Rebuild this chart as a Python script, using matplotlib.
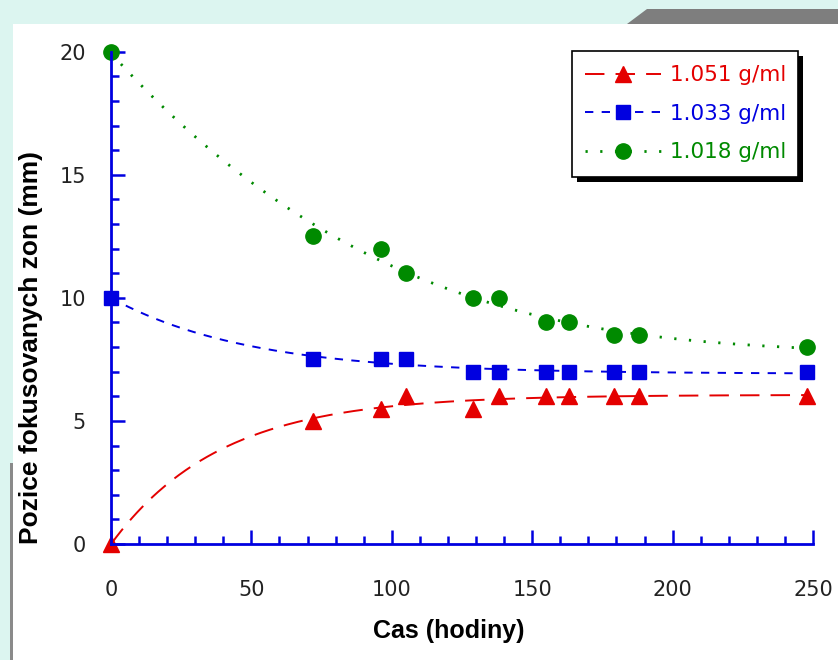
import numpy as np
import matplotlib
matplotlib.use("Agg")
import matplotlib.pyplot as plt
from matplotlib.patches import Rectangle, Polygon

# time in hours
hours = np.array([0, 72, 96, 105, 129, 138, 155, 163, 179, 188, 248])
# focused zone positions (mm)
pos_1051 = np.array([0, 5, 5.5, 6, 5.5, 6, 6, 6, 6, 6, 6])
pos_1033 = np.array([10, 7.5, 7.5, 7.5, 7, 7, 7, 7, 7, 7, 7])
pos_1018 = np.array([20, 12.5, 12, 11, 10, 10, 9, 9, 8.5, 8.5, 8])
labels = ["1.051 g/ml", "1.033 g/ml", "1.018 g/ml"]

RED = "#e40000"
BLUE = "#0000e0"
GREEN = "#008a00"

plt.rcParams["lines.scale_dashes"] = False


def expfit(x, y):
    # y = a + b*exp(-x/tau), grid search on tau, least squares for a, b
    best = None
    for tau in np.linspace(5, 200, 800):
        m = np.column_stack([np.ones_like(x, dtype=float), np.exp(-x / tau)])
        coef = np.linalg.lstsq(m, y, rcond=None)[0]
        err = np.sum((m @ coef - y) ** 2)
        if best is None or err < best[0]:
            best = (err, tau, coef)
    _, tau, (a, b) = best
    return lambda t: a + b * np.exp(-t / tau)


W, H = 838, 660
fig = plt.figure(figsize=(W / 100, H / 100), dpi=100)
fig.patch.set_facecolor("#dcf5f0")


def px(x, y):
    return (x / W, 1 - y / H)


fig.patches.append(Rectangle(px(13, 660), (W - 13) / W, (660 - 24) / H,
                             transform=fig.transFigure, facecolor="white",
                             edgecolor="none", zorder=-2))
fig.patches.append(Polygon([px(627, 24), px(647, 9), px(838, 9), px(838, 24)],
                           closed=True, transform=fig.transFigure,
                           facecolor="#7e7e7e", edgecolor="none", zorder=-2))
fig.patches.append(Rectangle(px(10, 660), 3 / W, (660 - 463) / H,
                             transform=fig.transFigure, facecolor="#8a8a8a",
                             edgecolor="none", zorder=-2))

ax = fig.add_axes([111 / W, 1 - 544 / H, (813 - 111) / W, (544 - 51.7) / H])
ax.set_facecolor("none")
ax.set_zorder(1)

tt = np.linspace(0, 248, 400)
fit_r = expfit(hours, pos_1051)
fit_b = expfit(hours, pos_1033)
fit_g = np.poly1d(np.polyfit(hours, pos_1018, 3))

ax.plot(tt, fit_r(tt), color=RED, lw=1.4, dashes=(14, 8))
ax.plot(tt, fit_b(tt), color=BLUE, lw=1.4, dashes=(6, 6))
ax.plot(tt, fit_g(tt), color=GREEN, lw=2, dashes=(1.6, 9))

ax.plot(hours, pos_1051, "^", color=RED, ms=11.5, clip_on=False, zorder=2)
ax.plot(hours, pos_1033, "s", color=BLUE, ms=10, clip_on=False, zorder=2)
ax.plot(hours, pos_1018, "o", color=GREEN, ms=11, clip_on=False, zorder=2)

ax.set_xlim(0, 250)
ax.set_ylim(0, 20)
ax.set_xticks(np.arange(0, 251, 50))
ax.set_xticks(np.arange(0, 251, 10), minor=True)
ax.set_yticks(np.arange(0, 21, 5))
ax.set_yticks(np.arange(0, 21, 1), minor=True)
for s in ["top", "right"]:
    ax.spines[s].set_visible(False)
for s in ["left", "bottom"]:
    ax.spines[s].set_color(BLUE)
    ax.spines[s].set_linewidth(2)
    ax.spines[s].set_zorder(3)
ax.tick_params(which="both", direction="in", color=BLUE, width=1.8,
               labelsize=15, labelcolor="#222222")
ax.tick_params(which="major", length=10)
ax.tick_params(which="minor", length=5.5)
ax.tick_params(axis="y", pad=18)
ax.tick_params(axis="x", pad=26)

fig.text(449 / W, 1 - 631 / H, "Cas (hodiny)", ha="center", va="center",
         fontsize=18, fontweight="bold", family="Liberation Sans")
fig.text(31 / W, 1 - 348 / H, "Pozice fokusovanych zon (mm)", ha="center",
         va="center", rotation=90, fontsize=19, fontweight="bold",
         family="Liberation Sans")

# legend box with hard black shadow
fig.patches.append(Rectangle(px(577, 182), (798 - 572) / W, (177 - 51) / H,
                             transform=fig.transFigure, facecolor="black",
                             edgecolor="none", zorder=4))
fig.patches.append(Rectangle(px(572, 177), (798 - 572) / W, (177 - 51) / H,
                             transform=fig.transFigure, facecolor="white",
                             edgecolor="black", lw=1.2, zorder=5))

h1, = ax.plot([], [], color=RED, lw=1.4, dashes=(14, 8), marker="^", ms=11.5)
h2, = ax.plot([], [], color=BLUE, lw=1.4, dashes=(6, 6), marker="s", ms=10)
h3, = ax.plot([], [], color=GREEN, lw=2, dashes=(1.6, 9), marker="o", ms=11)
leg = fig.legend([h1, h2, h3], labels, loc="upper left",
                 bbox_to_anchor=px(566, 46), frameon=False, fontsize=15.5,
                 handlelength=3.5, handletextpad=0.45, labelspacing=0.86,
                 numpoints=1)
leg.set_zorder(6)
for txt, c in zip(leg.get_texts(), [RED, BLUE, GREEN]):
    txt.set_color(c)

fig.savefig("out.png", dpi=100, facecolor=fig.get_facecolor())
